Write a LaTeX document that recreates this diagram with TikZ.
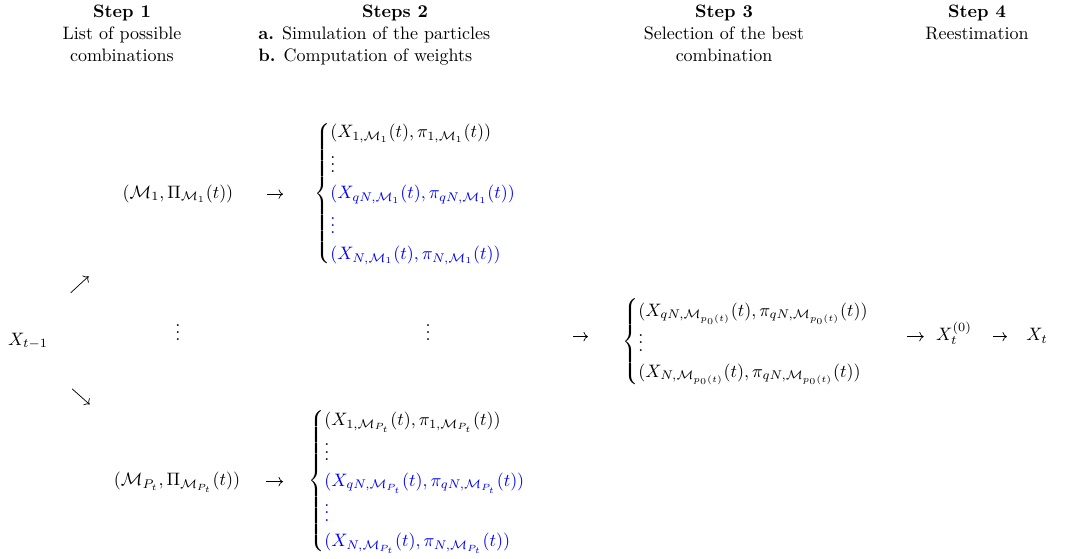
\documentclass[tikz,border=0pt]{standalone}
\usepackage{amsmath}
\usetikzlibrary{arrows.meta, positioning}

\begin{document}
\begin{tikzpicture}[
    x=0.5556pt, y=-0.5556pt,
    head/.style={align=center, inner sep=0pt, anchor=north},
    entry/.style={inner sep=0pt, anchor=base},
    arrow/.style={-{Computer Modern Rightarrow}, line width=0.4pt}
  ]
  \useasboundingbox (0,0) rectangle (1080,558);

  % column headings
  \node[head] (step1) at (122,5) {\textbf{Step 1}\\List of possible\\combinations};
  \node[head] (step2) at (395,5) {\textbf{Steps 2}};
  \node[head, align=left, anchor=north west] (step2list) at (258,26.5) {\textbf{a.} Simulation of the particles\\\textbf{b.} Computation of weights};
  \node[head] (step3) at (724,5) {\textbf{Step 3}\\Selection of the best\\combination};
  \node[head] (step4) at (977,5) {\textbf{Step 4}\\Reestimation};

  % step 1 and 2, first combination
  \node[entry] (comb1) at (178,198) {$(\mathcal{M}_1,\Pi_{\mathcal{M}_1}(t))$};
  \node[entry, anchor=base west] (part1) at (314,198) {$\begin{cases}
      (X_{1,\mathcal{M}_1}(t),\pi_{1,\mathcal{M}_1}(t))\\
      \vdots\\
      \color{blue}(X_{qN,\mathcal{M}_1}(t),\pi_{qN,\mathcal{M}_1}(t))\\
      \color{blue}\vdots\\
      \color{blue}(X_{N,\mathcal{M}_1}(t),\pi_{N,\mathcal{M}_1}(t))
    \end{cases}$};

  % middle row
  \node[entry] (xprev) at (28,345) {$X_{t-1}$};
  \node[entry] (dots1) at (178,340.5) {$\vdots$};
  \node[entry] (dots2) at (428,340.5) {$\vdots$};
  \node[entry, anchor=base west] (best) at (622,346) {$\begin{cases}
      (X_{qN,\mathcal{M}_{p_0(t)}}(t),\pi_{qN,\mathcal{M}_{p_0(t)}}(t))\\
      \vdots\\
      (X_{N,\mathcal{M}_{p_0(t)}}(t),\pi_{qN,\mathcal{M}_{p_0(t)}}(t))
    \end{cases}$};
  \node[entry] (xzero) at (954,340.5) {$X_t^{(0)}$};
  \node[entry] (xnew) at (1037,340.5) {$X_t$};

  % step 1 and 2, last combination
  \node[entry] (combP) at (177,485.5) {$(\mathcal{M}_{P_t},\Pi_{\mathcal{M}_{P_t}}(t))$};
  \node[entry, anchor=base west] (partP) at (308,485.5) {$\begin{cases}
      (X_{1,\mathcal{M}_{P_t}}(t),\pi_{1,\mathcal{M}_{P_t}}(t))\\
      \vdots\\
      \color{blue}(X_{qN,\mathcal{M}_{P_t}}(t),\pi_{qN,\mathcal{M}_{P_t}}(t))\\
      \color{blue}\vdots\\
      \color{blue}(X_{N,\mathcal{M}_{P_t}}(t),\pi_{N,\mathcal{M}_{P_t}}(t))
    \end{cases}$};

  \draw[arrow, shorten <=32.3pt, shorten >=67.7pt] (xprev.north) -- (comb1.center);
  \draw[arrow, shorten <=32.8pt, shorten >=65pt] (xprev.south) -- (combP.center);
  \draw[arrow, shorten <=18.3pt, shorten >=17.2pt] (comb1.mid east) -- (part1.mid west);
  \draw[arrow, shorten <=14.4pt, shorten >=13.9pt] (combP.mid east) -- (partP.mid west);
  \draw[arrow, shorten <=79.2pt, shorten >=18.9pt] (dots2.mid east) -- (dots2.mid east -| best.west);
  \draw[arrow, shorten <=10.6pt, shorten >=6.7pt] (xzero.mid west -| best.east) -- (xzero.mid west);
  \draw[arrow, shorten <=11.7pt, shorten >=10.6pt] (xzero.mid east) -- (xnew.mid west);
\end{tikzpicture}
\end{document}
